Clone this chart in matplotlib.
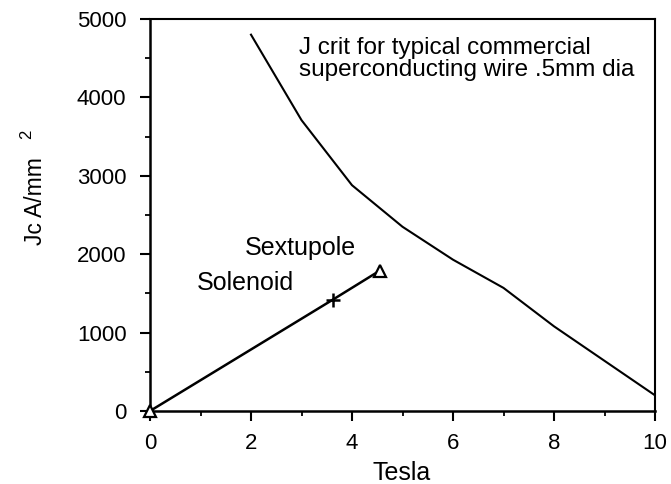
import matplotlib
matplotlib.use("Agg")
import matplotlib.pyplot as plt
from matplotlib.ticker import MultipleLocator

plt.rcParams['font.family'] = ['Liberation Sans', 'DejaVu Sans']

# J crit curve
jcrit_tesla = [2, 3, 4, 5, 6, 7, 8, 9, 10]
jcrit_values = [4800, 3710, 2880, 2350, 1930, 1570, 1080, 640, 200]

# Magnet load line
load_tesla = [0, 3.62, 4.55]
load_values = [0, 1420, 1790]
solenoid_point = (3.62, 1420)
sextupole_point = (4.55, 1790)
origin_point = (0, 0)

fig = plt.figure(figsize=(6.71, 4.84), dpi=100)
ax = fig.add_axes([150/671, 1-411/484, (655-150)/671, (411-19)/484])

ax.plot(jcrit_tesla, jcrit_values, color='black', lw=1.5)
ax.plot(load_tesla, load_values, color='black', lw=1.8)
ax.plot([sextupole_point[0], origin_point[0]], [sextupole_point[1], origin_point[1]],
        linestyle='none', marker='^', markersize=8, markerfacecolor='white',
        markeredgecolor='black', markeredgewidth=1.6, clip_on=False, zorder=5)
ax.plot([solenoid_point[0]], [solenoid_point[1]], linestyle='none', marker='+',
        markersize=10, markeredgewidth=1.8, color='black', zorder=5)

ax.set_xlim(0, 10)
ax.set_ylim(0, 5000)
ax.xaxis.set_major_locator(MultipleLocator(2))
ax.xaxis.set_minor_locator(MultipleLocator(1))
ax.yaxis.set_major_locator(MultipleLocator(1000))
ax.yaxis.set_minor_locator(MultipleLocator(500))
ax.tick_params(which='major', direction='out', length=7, width=1.5, labelsize=16)
ax.tick_params(axis='y', which='major', pad=10)
ax.tick_params(axis='x', which='major', pad=9)
ax.tick_params(which='minor', direction='out', length=3.5, width=1.3)
for s in ax.spines.values():
    s.set_linewidth(1.5)
ax.spines['left'].set_linewidth(1.8)
ax.spines['bottom'].set_linewidth(1.8)

ax.text(2.95, 4490, "J crit for typical commercial\nsuperconducting wire .5mm dia",
        fontsize=17.5, va='center', ha='left', linespacing=1.0)
ax.text(1.88, 2080, "Sextupole", fontsize=18, va='center', ha='left')
ax.text(0.93, 1630, "Solenoid", fontsize=18, va='center', ha='left')

fig.text(402/671, 1-473/484, "Tesla", fontsize=18, ha='center', va='center')
fig.text(35/671, 1-201/484, "Jc A/mm", fontsize=16.5, ha='center', va='center', rotation=90)
fig.text(27/671, 1-134/484, "2", fontsize=12, ha='center', va='center', rotation=90)

fig.savefig("out.png", dpi=100)
